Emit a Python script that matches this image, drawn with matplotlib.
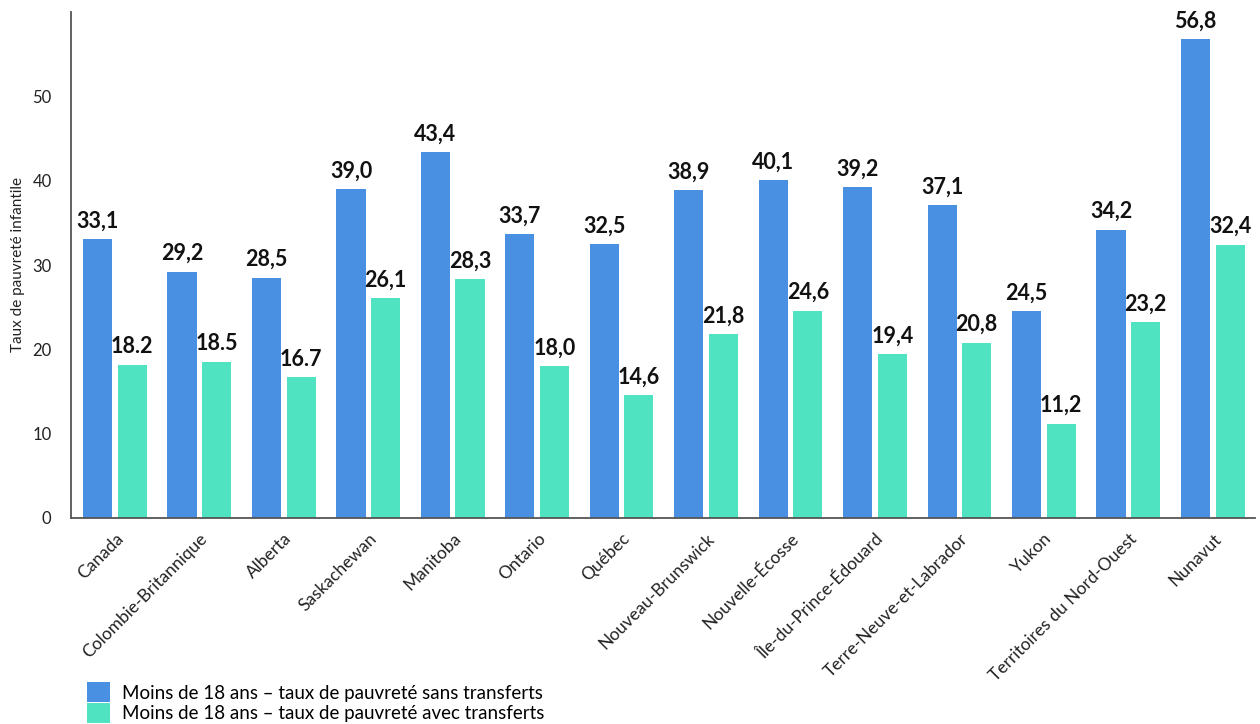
import matplotlib.pyplot as plt
import matplotlib.transforms as mtransforms
import numpy as np

plt.rcParams['font.family'] = ['Lato', 'DejaVu Sans']

regions = ['Canada', 'Colombie-Britannique', 'Alberta', 'Saskachewan', 'Manitoba',
           'Ontario', 'Québec', 'Nouveau-Brunswick', 'Nouvelle-Écosse',
           'Île-du-Prince-Édouard', 'Terre-Neuve-et-Labrador', 'Yukon',
           'Territoires du Nord-Ouest', 'Nunavut']
sans = [33.1, 29.2, 28.5, 39.0, 43.4, 33.7, 32.5, 38.9, 40.1, 39.2, 37.1, 24.5, 34.2, 56.8]
avec = [18.2, 18.5, 16.7, 26.1, 28.3, 18.0, 14.6, 21.8, 24.6, 19.4, 20.8, 11.2, 23.2, 32.4]
sans_lbl = ['33,1', '29,2', '28,5', '39,0', '43,4', '33,7', '32,5', '38,9', '40,1', '39,2', '37,1', '24,5', '34,2', '56,8']
avec_lbl = ['18.2', '18.5', '16.7', '26,1', '28,3', '18,0', '14,6', '21,8', '24,6', '19,4', '20,8', '11,2', '23,2', '32,4']

blue = '#4A90E2'
teal = '#50E3C2'

fig = plt.figure(figsize=(12.6, 7.24), dpi=100)
ax = fig.add_axes([71/1260, 1 - 518/724, 1184/1260, 506/724])

x = np.arange(len(regions))
w = 0.345
b1 = ax.bar(x - 0.205, sans, w, color=blue, label='Moins de 18 ans – taux de pauvreté sans transferts')
b2 = ax.bar(x + 0.205, avec, w, color=teal, label='Moins de 18 ans – taux de pauvreté avec transferts')

# etiquettes de valeur
for xi, v, t in zip(x, sans, sans_lbl):
    ax.text(xi - 0.205, v + 0.9, t, ha='center', va='bottom', fontsize=15.5, fontweight='bold', color='#111111')
for xi, v, t in zip(x, avec, avec_lbl):
    ax.text(xi + 0.205, v + 0.9, t, ha='center', va='bottom', fontsize=15.5, fontweight='bold', color='#111111')

ax.set_xlim(-0.52, 13.5)
ax.set_ylim(0, 60)
ax.set_yticks([0, 10, 20, 30, 40, 50])
ax.set_xticks(x)
ax.set_xticklabels(regions, rotation=45, ha='right', rotation_mode='anchor', fontsize=12.5)
off = mtransforms.ScaledTranslation(7/100, 0, fig.dpi_scale_trans)
for lbl in ax.get_xticklabels():
    lbl.set_transform(lbl.get_transform() + off)
ax.tick_params(axis='both', length=0, colors='#222222')
ax.tick_params(axis='x', pad=9)
ax.tick_params(axis='y', pad=14, labelsize=12)
for s in ['top', 'right']:
    ax.spines[s].set_visible(False)
for s in ['left', 'bottom']:
    ax.spines[s].set_color('#555555')
    ax.spines[s].set_linewidth(1.3)

fig.text(18/1260, 1 - 265/724, 'Taux de pauvreté infantile', rotation=90, ha='center', va='center', fontsize=11, color='#222222')

fig.legend(handles=[b1, b2], loc='lower left', bbox_to_anchor=(86/1260, 0.0), frameon=False,
           fontsize=13.5, handlelength=1.25, handleheight=1.25, handletextpad=0.6, labelspacing=0.05,
           borderaxespad=0.0, borderpad=0.05)

fig.savefig('out.png', dpi=100)
